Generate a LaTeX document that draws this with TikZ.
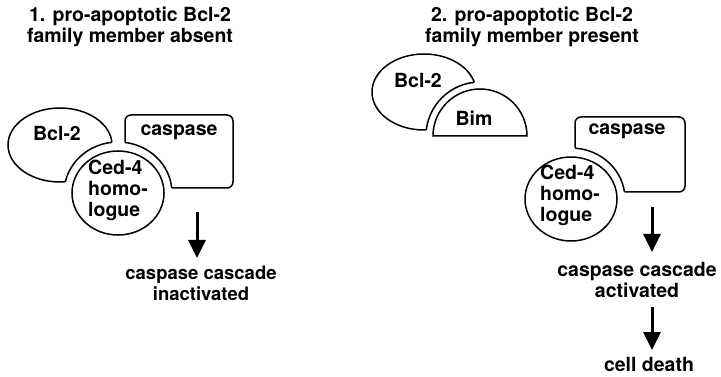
\documentclass[tikz,border=0pt]{standalone}
\usepackage{fontspec}
\setmainfont{TeX Gyre Heros}
\usetikzlibrary{arrows.meta}

\tikzset{
  outline/.style={line width=1.5pt},
  lbl/.style={font=\fontsize{19.5}{21}\selectfont\bfseries, align=center, inner sep=0pt},
  down/.style={line width=3pt, -{Triangle[length=18pt,width=17pt]}},
}

\begin{document}
\begin{tikzpicture}[x=1pt,y=1pt,yscale=-1]
\useasboundingbox (0,0) rectangle (721,377);

%% 1. no pro-apoptotic member
%Shape: Bcl-2 and caspase
\draw [outline,fill=white] (60,145) ellipse [x radius=52,y radius=37];
\draw [outline,fill=white,rounded corners=6pt] (125,115) rectangle (233,188);
%cut-out round Ced-4
\fill [white] (118,193) ellipse [x radius=54,y radius=51];
\begin{scope}
  \clip (60,145) ellipse [x radius=52,y radius=37];
  \draw [outline] (118,193) ellipse [x radius=54,y radius=51];
\end{scope}
\begin{scope}
  \clip [rounded corners=6pt] (125,115) rectangle (233,188);
  \draw [outline] (118,193) ellipse [x radius=54,y radius=51];
\end{scope}
%Shape: Ced-4 homologue
\draw [outline,fill=white] (118,193) ellipse [x radius=46,y radius=42];

% Text Node
\node [lbl] (title1) [anchor=north] at (130,7) {1. pro-apoptotic Bcl-2\\family member absent};
\node [lbl] (bcl1) at (57,133) {Bcl-2};
\node [lbl] (casp1) at (179,132) {caspase};
\node [lbl,align=left] (ced1) at (118,190) {Ced-4\\homo-\\logue};
\node [lbl,font=\fontsize{18.5}{20.5}\selectfont\bfseries] (casc1) [anchor=north] at (201,266) {caspase cascade\\inactivated};
\coordinate (a1) at (197,212);
\draw [down,shorten >=8pt] (a1) -- (a1 |- casc1.north);

%% 2. pro-apoptotic member present
%Shape: Bcl-2 and Bim
\draw [outline,fill=white] (424,92) ellipse [x radius=52,y radius=38];
\fill [white] (480,136) circle [radius=54];
\begin{scope}
  \clip (424,92) ellipse [x radius=52,y radius=38];
  \draw [outline] (480,136) circle [radius=54];
\end{scope}
\draw [outline,fill=white] (433,136) arc [start angle=180,end angle=360,radius=47] -- cycle;
%Shape: caspase and Ced-4
\draw [outline,fill=white,rounded corners=6pt] (575,117) rectangle (685,192);
\fill [white] (571,199) ellipse [x radius=54,y radius=51];
\begin{scope}
  \clip [rounded corners=6pt] (575,117) rectangle (685,192);
  \draw [outline] (571,199) ellipse [x radius=54,y radius=51];
\end{scope}
\draw [outline,fill=white] (571,199) ellipse [x radius=46,y radius=42];

% Text Node
\node [lbl] (title2) [anchor=north] at (532,7) {2. pro-apoptotic Bcl-2\\family member present};
\node [lbl] (bcl2) at (418,80) {Bcl-2};
\node [lbl] (bim) at (474,118) {Bim};
\node [lbl] (casp2) at (627,131) {caspase};
\node [lbl,align=left] (ced2) at (570,195) {Ced-4\\homo-\\logue};
\node [lbl] (casc2) [anchor=north] at (637,262) {caspase cascade\\activated};
\node [lbl] (death) [anchor=north] at (649,357) {cell death};
\coordinate (a2) at (652,207);
\coordinate (a3) at (652,307);
\draw [down,shorten >=10pt] (a2) -- (a2 |- casc2.north);
\draw [down,shorten >=7pt] (a3) -- (a3 |- death.north);
\end{tikzpicture}
\end{document}
